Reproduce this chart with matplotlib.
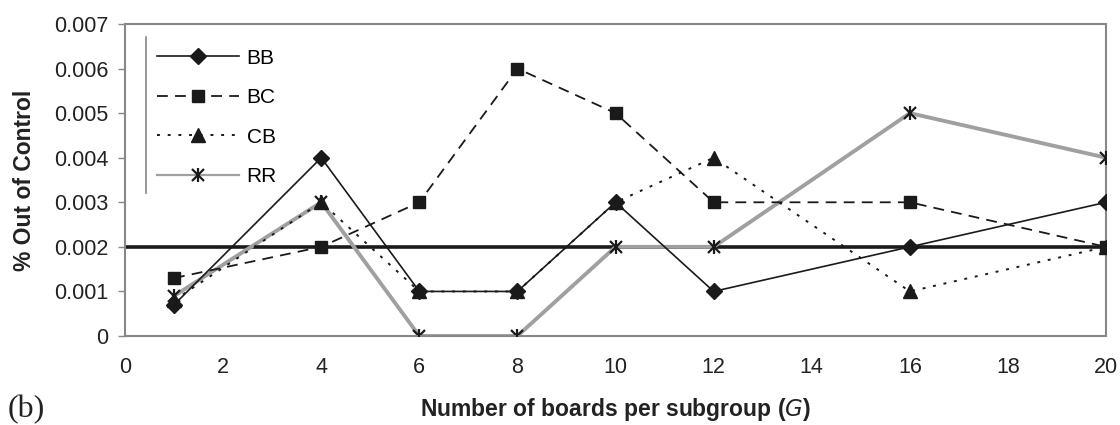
import matplotlib
matplotlib.use("Agg")
import matplotlib.pyplot as plt

plt.rcParams['font.family'] = ['Liberation Sans', 'DejaVu Sans']

# Subgroup sizes and out-of-control rates for each scheme
boards = [1, 4, 6, 8, 10, 12, 16, 20]
bb = [0.0007, 0.004, 0.001, 0.001, 0.003, 0.001, 0.002, 0.003]
bc = [0.0013, 0.002, 0.003, 0.006, 0.005, 0.003, 0.003, 0.002]
cb = [0.0008, 0.003, 0.001, 0.001, 0.003, 0.004, 0.001, 0.002]
rr = [0.0009, 0.003, 0.0, 0.0, 0.002, 0.002, 0.005, 0.004]
reference_level = 0.002

x_ticks = list(range(0, 21, 2))
y_ticks = [0, 0.001, 0.002, 0.003, 0.004, 0.005, 0.006, 0.007]
y_ticklabels = ['0', '0.001', '0.002', '0.003', '0.004', '0.005', '0.006', '0.007']

fig = plt.figure(figsize=(11.2, 4.25), dpi=100)
ax = fig.add_axes([0.1116, 0.2094, 0.876, 0.7341])

ax.axhline(reference_level, color='#1a1a1a', lw=2.6, zorder=1)

h_bb, = ax.plot(boards, bb, color='#1a1a1a', lw=1.2, ls='-', marker='D', ms=8,
                mfc='#1a1a1a', mec='#1a1a1a', zorder=3)
h_bc, = ax.plot(boards, bc, color='#1a1a1a', lw=1.3, ls=(0, (6, 4)), marker='s', ms=9,
                mfc='#1a1a1a', mec='#1a1a1a', zorder=3)
h_cb, = ax.plot(boards, cb, color='#1a1a1a', lw=1.4, ls=(0, (1.5, 4)), marker='^', ms=10,
                mfc='#1a1a1a', mec='#1a1a1a', zorder=3)
h_rr, = ax.plot(boards, rr, color='#a0a0a0', lw=2.8, ls='-', marker='x', ms=9,
                mec='#1a1a1a', mew=1.6, zorder=2)
# asterisk: add a vertical stroke over each cross
h_rr_bar, = ax.plot(boards, rr, ls='none', marker='|', ms=10, mec='#1a1a1a',
                    mew=1.6, zorder=4)

ax.set_xlim(0, 20)
ax.set_ylim(0, 0.007)
ax.set_xticks(x_ticks)
ax.set_xticklabels([str(v) for v in x_ticks])
ax.set_yticks(y_ticks)
ax.set_yticklabels(y_ticklabels)
ax.tick_params(axis='both', labelsize=15.5, colors='#222222')
ax.tick_params(axis='x', length=0, pad=15)
ax.tick_params(axis='y', length=5, width=1, color='#888888', pad=7)

for s in ax.spines.values():
    s.set_color('#888888')
    s.set_linewidth(1.5)

ax.set_ylabel('% Out of Control', fontsize=16.5, fontweight='bold', labelpad=13,
              color='#222222')
ax.set_xlabel(r'Number of boards per subgroup (' + r'$\mathit{G}$' + ')',
              fontsize=16.5, fontweight='bold', labelpad=13, color='#222222')

rr_legend_line, = ax.plot([], [], color='#a0a0a0', lw=1.6, marker='x', ms=9,
                          mec='#1a1a1a', mew=1.6)
ax.legend([h_bb, h_bc, h_cb, (rr_legend_line, h_rr_bar)], ['BB', 'BC', 'CB', 'RR'],
          loc='upper left', bbox_to_anchor=(0.01, 0.991), fontsize=15,
          handlelength=3.95, handletextpad=0.37, labelspacing=0.98,
          frameon=False, borderpad=0.55)
# thin rule on the legend's left edge
ax.plot([0.43, 0.43], [0.0032, 0.0067], color='#888888', lw=1.2, zorder=1)

fig.text(0.007, 0.018, '(b)', fontsize=23, family='Liberation Serif', color='#222222')

fig.savefig('out.png', dpi=100)
